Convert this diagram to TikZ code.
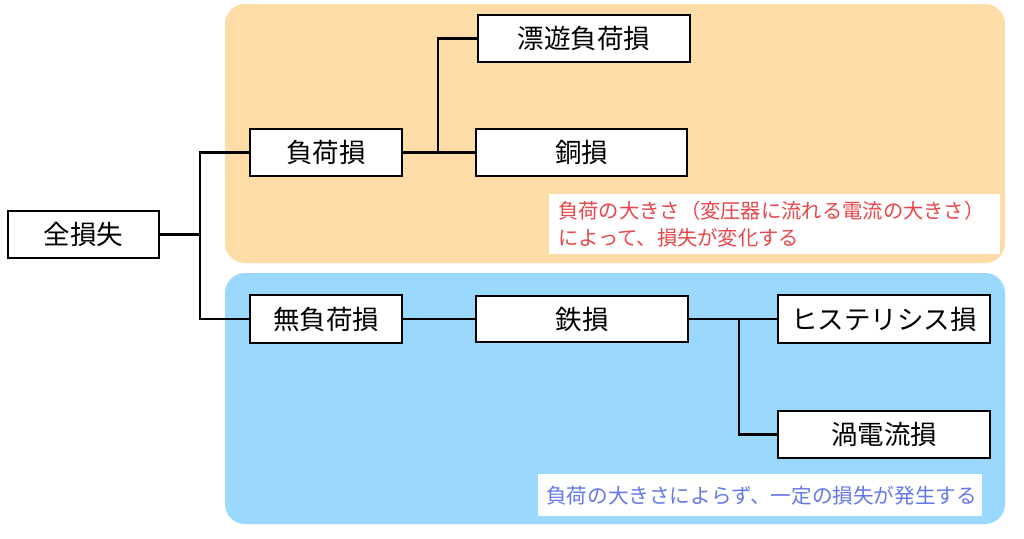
\documentclass[tikz,border=0pt]{standalone}
\usepackage{fontspec}
\setmainfont{Noto Sans CJK JP}
\definecolor{peach}{RGB}{253,220,168}
\definecolor{sky}{RGB}{155,216,253}
\definecolor{notered}{RGB}{232,70,75}
\definecolor{noteblue}{RGB}{100,120,232}
\tikzset{
  lossbox/.style={draw=black, line width=1.8pt, fill=white, rectangle, inner sep=0pt, font=\fontsize{26.5}{30}\selectfont},
  link/.style={line width=2.4pt, draw=black},
  region/.style={rounded corners=20pt},
  notebox/.style={fill=white, rectangle, inner ysep=0pt, inner xsep=10pt, align=left, anchor=north west}
}
\begin{document}
\begin{tikzpicture}[x=1pt,y=-1pt]
\useasboundingbox (0,0) rectangle (1024,538);
\fill[peach, region] (225,4) rectangle (1005,263);
\fill[sky, region] (225,273) rectangle (1005,524);

\node[notebox, text=notered, minimum width=451pt, minimum height=60pt, text width=433pt, inner xsep=9pt, font=\fontsize{20.3}{27}\selectfont] (n1) at (549,194) {負荷の大きさ（変圧器に流れる電流の大きさ）\\によって、損失が変化する};
\node[notebox, text=noteblue, minimum width=444pt, minimum height=42pt, inner xsep=8pt, text width=428pt, font=\fontsize{20.6}{24}\selectfont] (n2) at (538,474) {負荷の大きさによらず、一定の損失が発生する};

\node[lossbox, minimum width=151pt, minimum height=47pt] (all) at (83.5,234.5) {全損失};
\node[lossbox, minimum width=152pt, minimum height=47pt] (load) at (326,152.5) {負荷損};
\node[lossbox, minimum width=152pt, minimum height=48pt] (noload) at (326,319) {無負荷損};
\node[lossbox, minimum width=212pt, minimum height=47pt] (stray) at (584,38.5) {漂遊負荷損};
\node[lossbox, minimum width=211pt, minimum height=47pt] (copper) at (581.5,152.5) {銅損};
\node[lossbox, minimum width=212pt, minimum height=46pt] (iron) at (582,319) {鉄損};
\node[lossbox, minimum width=212pt, minimum height=48pt] (hyst) at (884,319) {ヒステリシス損};
\node[lossbox, minimum width=212pt, minimum height=47pt] (eddy) at (884,434.5) {渦電流損};

\coordinate (j1) at (200,234.5);
\coordinate (j2) at (438,152.5);
\coordinate (j3) at (739,319);

\draw[link] (all.east) -- (j1);
\draw[link] (j1) |- (load.west);
\draw[link] (j1) |- (noload.west);
\draw[link] (load.east) -- (copper.west);
\draw[link] (j2) |- (stray.west);
\draw[link] (noload.east) -- (iron.west);
\draw[link] (iron.east) -- (hyst.west);
\draw[link] (j3) |- (eddy.west);
\end{tikzpicture}
\end{document}
